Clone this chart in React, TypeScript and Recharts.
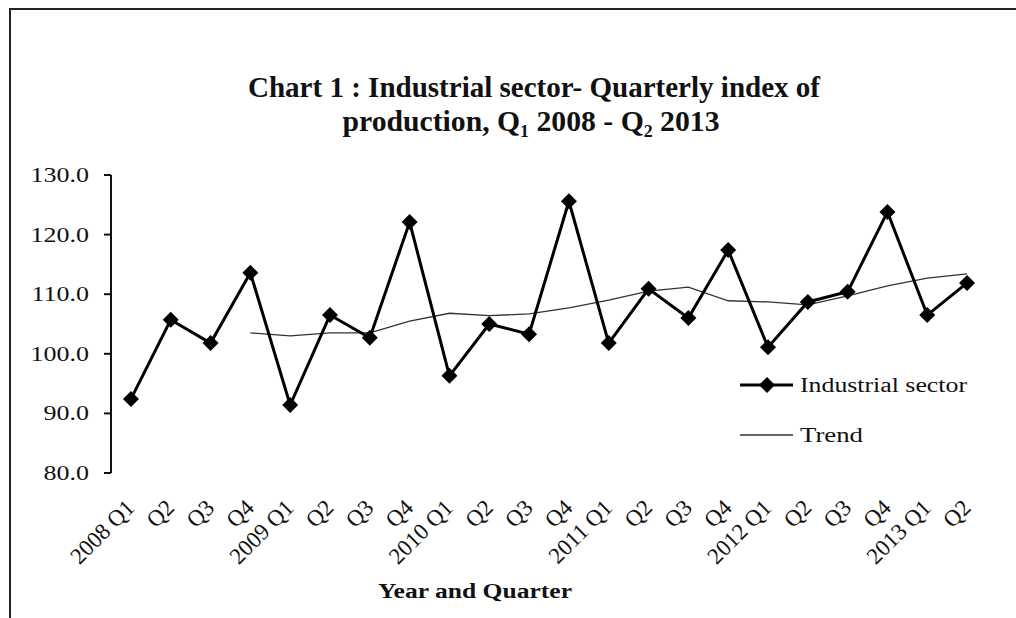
import React from "react";
import { LineChart, Line, XAxis, YAxis } from "recharts";

const categories = [
  "2008 Q1", "Q2", "Q3", "Q4",
  "2009 Q1", "Q2", "Q3", "Q4",
  "2010 Q1", "Q2", "Q3", "Q4",
  "2011 Q1", "Q2", "Q3", "Q4",
  "2012 Q1", "Q2", "Q3", "Q4",
  "2013 Q1", "Q2",
];

const industrial = [
  92.4, 105.7, 101.8, 113.6,
  91.4, 106.5, 102.7, 122.1,
  96.3, 105.0, 103.3, 125.6,
  101.8, 110.9, 106.0, 117.4,
  101.1, 108.7, 110.4, 123.8,
  106.5, 111.9,
];

const trend = [
  null, null, null, 103.5,
  103.0, 103.5, 103.5, 105.5,
  106.8, 106.4, 106.7, 107.7,
  109.0, 110.5, 111.2, 108.9,
  108.7, 108.2, 109.7, 111.4,
  112.7, 113.4,
];

const yTicks = [80, 90, 100, 110, 120, 130];

const data = categories.map((label, i) => ({
  idx: i,
  label,
  industrial: industrial[i],
  trend: trend[i],
}));

const centerTicks = categories.map((_, i) => i);
const edgeTicks = categories.map((_, i) => i - 0.5).concat(categories.length - 0.5);
const FONT = "'Liberation Serif', 'Times New Roman', serif";

const Diamond = (props: any) => {
  const { cx, cy } = props;
  if (cx == null || cy == null) return null;
  const r = 8;
  return (
    <polygon
      points={`${cx},${cy - r} ${cx + r},${cy} ${cx},${cy + r} ${cx - r},${cy}`}
      fill="#000"
    />
  );
};

const QuarterTick = (props: any) => {
  const { x, y, payload } = props;
  const tx = x + 5;
  const ty = y + 34;
  return (
    <text
      x={tx}
      y={ty}
      transform={`rotate(-45 ${tx} ${ty})`}
      textAnchor="end"
      fontFamily={FONT}
      fontSize={23}
      fill="#111"
    >
      {categories[payload.value]}
    </text>
  );
};

const ValueTick = (props: any) => {
  const { x, y, payload } = props;
  return (
    <text
      transform={`translate(${x} ${y}) scale(1.3 1)`}
      textAnchor="end"
      dy="0.35em"
      fontFamily={FONT}
      fontSize={20}
      fill="#111"
    >
      {Number(payload.value).toFixed(1)}
    </text>
  );
};

export default function App() {
  return (
    <div style={{ position: "absolute", left: 0, top: 0, width: 1016, height: 618, background: "#fff", overflow: "hidden" }}>
      <div
        style={{
          position: "absolute",
          left: 9,
          top: 8,
          width: 1020,
          height: 640,
          borderLeft: "2px solid #222",
          borderTop: "2px solid #222",
        }}
      />
      <div style={{ position: "absolute", left: 0, top: 0 }}>
        <LineChart width={1016} height={618} data={data} margin={{ top: 175, right: 29, bottom: 0, left: 0 }}>
          <XAxis
            xAxisId="edge"
            type="number"
            dataKey="idx"
            domain={[-0.5, categories.length - 0.5]}
            ticks={edgeTicks}
            tick={false}
            tickSize={7}
            height={0}
            stroke="#111"
            strokeWidth={2}
            allowDecimals
          />
          <XAxis
            xAxisId="main"
            type="number"
            dataKey="idx"
            domain={[-0.5, categories.length - 0.5]}
            ticks={centerTicks}
            tick={<QuarterTick />}
            tickLine={false}
            axisLine={false}
            tickSize={0}
            interval={0}
            height={145}
          />
          <YAxis
            domain={[80, 130]}
            ticks={yTicks}
            width={111}
            tickSize={7}
            tickMargin={15}
            stroke="#111"
            strokeWidth={2}
            tick={<ValueTick />}
          />
          <Line
            xAxisId="main"
            dataKey="trend"
            name="Trend"
            stroke="#333"
            strokeWidth={1.3}
            dot={false}
            connectNulls={false}
            isAnimationActive={false}
          />
          <Line
            xAxisId="main"
            dataKey="industrial"
            name="Industrial sector"
            stroke="#000"
            strokeWidth={3}
            dot={<Diamond />}
            activeDot={false}
            isAnimationActive={false}
          />
        </LineChart>
      </div>
      <svg width={1016} height={618} style={{ position: "absolute", left: 0, top: 0, pointerEvents: "none" }}>
        <text
          x={534}
          y={97}
          textAnchor="middle"
          fontFamily={FONT}
          fontWeight="bold"
          fontSize={30}
          fill="#111"
          textLength={572}
          lengthAdjust="spacingAndGlyphs"
        >
          Chart 1 : Industrial sector- Quarterly index of
        </text>
        <text
          x={531}
          y={131}
          textAnchor="middle"
          fontFamily={FONT}
          fontWeight="bold"
          fontSize={30}
          fill="#111"
          textLength={377}
          lengthAdjust="spacingAndGlyphs"
        >
          production, Q₁ 2008 - Q₂ 2013
        </text>
        <text
          x={475}
          y={598}
          textAnchor="middle"
          fontFamily={FONT}
          fontWeight="bold"
          fontSize={20}
          fill="#111"
          textLength={194}
          lengthAdjust="spacingAndGlyphs"
        >
          Year and Quarter
        </text>
        <g>
          <line x1={740} y1={385} x2={793} y2={385} stroke="#000" strokeWidth={3} />
          <polygon points="767,377 775,385 767,393 759,385" fill="#000" />
          <text x={800} y={392} fontFamily={FONT} fontSize={20} fill="#111" textLength={167} lengthAdjust="spacingAndGlyphs">
            Industrial sector
          </text>
          <line x1={740} y1={435} x2={793} y2={435} stroke="#333" strokeWidth={1.3} />
          <text x={800} y={442} fontFamily={FONT} fontSize={20} fill="#111" textLength={63} lengthAdjust="spacingAndGlyphs">
            Trend
          </text>
        </g>
      </svg>
    </div>
  );
}
